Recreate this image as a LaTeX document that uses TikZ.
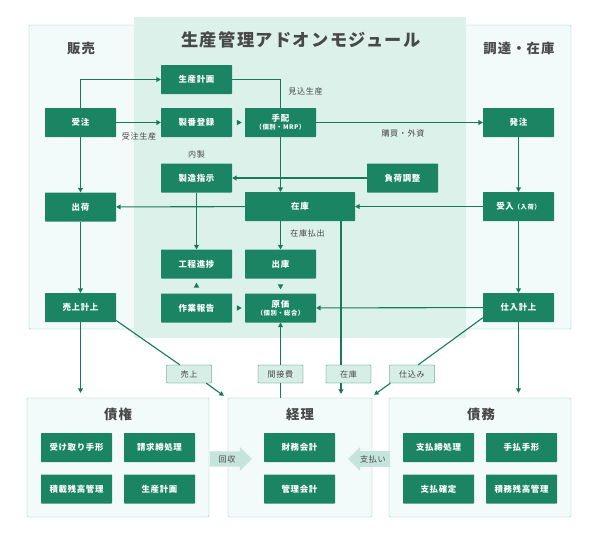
\documentclass[tikz,border=0pt]{standalone}
\usepackage{fontspec}
\setmainfont{Noto Sans CJK JP}[LetterSpace=8]
\usetikzlibrary{arrows.meta,positioning,shapes.geometric,shapes.arrows,calc}
\definecolor{gdark}{RGB}{27,133,99}
\definecolor{gline}{RGB}{22,122,88}
\definecolor{gzone}{RGB}{221,241,235}
\definecolor{gside}{RGB}{243,251,250}
\definecolor{gedge}{RGB}{138,196,176}
\definecolor{gtag}{RGB}{215,238,230}
\definecolor{gbig}{RGB}{197,228,219}
\definecolor{ink}{RGB}{72,72,72}

\begin{document}
\begin{tikzpicture}[x=0.5mm, y=-0.5mm,
  blk/.style={fill=gdark, text=white, font=\bfseries\fontsize{12}{13}\selectfont,
    minimum width=35.5mm, minimum height=14.5mm, inner sep=0pt,
    rounded corners=1pt, align=center},
  box/.style={draw=gedge, fill=gside, line width=0.5pt, rounded corners=1.5pt},
  head/.style={text=ink, font=\bfseries\fontsize{19}{21}\selectfont},
  note/.style={text=ink, font=\fontsize{11.5}{12.5}\selectfont, inner sep=0pt},
  small/.style={font=\bfseries\fontsize{8}{9}\selectfont},
  tag/.style={draw=gline, fill=gtag, line width=0.5pt, rounded corners=1pt,
    text=ink, font=\fontsize{11.5}{12.5}\selectfont,
    minimum width=22.5mm, minimum height=9mm, inner sep=0pt},
  link/.style={draw=gline, line width=0.55mm},
  flow/.style={link, -{Triangle[length=2.2mm, width=2.4mm]}},
  pip/.style={isosceles triangle, isosceles triangle apex angle=60,
    fill=gline, inner sep=0pt, minimum size=2.4mm},
  bigarrow/.style={single arrow, fill=gbig, text=ink,
    font=\fontsize{11.5}{12.5}\selectfont, minimum height=21mm,
    minimum width=12mm, single arrow head extend=1.25mm, inner sep=1pt},
]
  \useasboundingbox (0,0) rectangle (600,539);

  % Side panels and add-on zone
  \draw[box] (29,25) rectangle (200,329);
  \draw[box] (400,25) rectangle (571,329);
  \fill[gzone] (134,17) rectangle (466,338);

  % Panel titles
  \node[head] (tHanbai) at (81,48) {販売};
  \node[head] (tChotatsu) at (519,48) {調達・在庫};
  \node[head, font=\bfseries\fontsize{24.5}{27}\selectfont] (tAddon) at (301,40)
    {生産管理アドオンモジュール};

  % Sales column
  \node[blk] (juchu) at (80.5,122.5) {受注};
  \node[blk] (shukka) at (80.5,207) {出荷};
  \node[blk] (uriage) at (80.5,307.5) {売上計上};

  % Add-on module
  \node[blk] (keikaku) at (196.5,79.5) {生産計画};
  \node[blk] (seiban) at (196.5,122.5) {製番登録};
  \node[blk] (tehai) at (280.5,122.5) {手配\\[-2pt]{\fontsize{9}{10}\selectfont（個別・MRP）}};
  \node[blk] (shiji) at (196.5,178) {製造指示};
  \node[blk] (fuka) at (402.5,178) {負荷調整};
  \node[blk, minimum width=55mm] (zaiko) at (300,206.5) {在庫};
  \node[blk] (shinchoku) at (196.5,264) {工程進捗};
  \node[blk] (shukko) at (280.5,264) {出庫};
  \node[blk] (hokoku) at (196.5,308) {作業報告};
  \node[blk] (genka) at (280.5,308) {原価\\[-2pt]{\fontsize{9}{10}\selectfont（個別・総合）}};

  % Purchasing column
  \node[blk] (hatchu) at (518.5,122.5) {発注};
  \node[blk] (ukeire) at (518.5,206.5) {受入{\fontsize{9}{10}\selectfont（入荷）}};
  \node[blk] (shiire) at (518.5,307.5) {仕入計上};

  % Flow labels
  \node[note] (nJuchu) at (139,136) {受注生産};
  \node[note] (nMikomi) at (305.5,91) {見込生産};
  \node[note] (nKobai) at (403,133) {購買・外資};
  \node[note] (nNaisei) at (196.5,154) {内製};
  \node[note] (nHarai) at (307.5,233) {在庫払出};

  % Bottom panels
  \node[box, minimum width=91mm, minimum height=59.5mm] (saiken) at (118,457.5) {};
  \node[box, minimum width=72mm, minimum height=59.5mm] (keiri) at (300,457.5) {};
  \node[box, minimum width=91mm, minimum height=59.5mm] (saimu) at (480,457.5) {};
  \node[head] (tSaiken) at (118,414) {債権};
  \node[head] (tKeiri) at (300,414) {経理};
  \node[head] (tSaimu) at (481,414) {債務};

  \node[blk] (tegata) at (76.5,447.5) {受け取り手形};
  \node[blk] (seikyu) at (159.5,447.5) {請求締処理};
  \node[blk] (sekisai) at (76.5,489) {積載残高管理};
  \node[blk] (keikaku2) at (159.5,489) {生産計画};
  \node[blk] (zaimu) at (299.5,447.5) {財務会計};
  \node[blk] (kanri) at (299.5,489) {管理会計};
  \node[blk] (shimebi) at (438.5,447.5) {支払締処理};
  \node[blk] (teharai) at (521.5,447.5) {手払手形};
  \node[blk] (kakutei) at (438.5,489) {支払確定};
  \node[blk] (sekimu) at (521.5,489) {積務残高管理};

  % Transfer arrows between panels
  \node[bigarrow] (kaishu) at (227,459) {回収};
  \node[bigarrow, shape border rotate=180] (shiharai) at (373,459) {支払い};

  % Tags on the lines into accounting
  \node[tag] (tUri) at (189,374) {売上};
  \node[tag] (tKan) at (280.5,374) {間接費};
  \node[tag] (tZai) at (348.5,374) {在庫};
  \node[tag] (tShi) at (412,374) {仕込み};
  \coordinate (zx) at (341,0);

  % Connectors
  \draw[flow] (juchu.north) |- (keikaku.west);
  \draw[flow] (juchu) -- (seiban);
  \draw[flow] (juchu) -- (shukka);
  \draw[link] (keikaku.east) -| (tehai.north);
  \draw[flow] (tehai) -- (hatchu);
  \draw[flow] (tehai.south) -- (tehai.south |- zaiko.north);
  \draw[flow] (fuka) -- (shiji);
  \draw[flow] (hatchu) -- (ukeire);
  \draw[flow] (ukeire) -- (zaiko);
  \draw[flow] (zaiko) -- (shukka);
  \draw[flow] (shiji) -- (shinchoku);
  \draw[flow] (shukko.north |- zaiko.south) -- (shukko.north);
  \draw[flow] (shiire) -- (genka);
  \draw[flow] (ukeire) -- (shiire);
  \draw[flow] (shukka) -- (uriage);
  \draw[flow, shorten >=2.5mm] (uriage.south) -- (uriage.south |- saiken.north);
  \draw[flow, shorten >=2.5mm] (shiire.south) -- (shiire.south |- saimu.north);
  \path (seiban) -- node[pip] (p1) {} (tehai);
  \path (hokoku) -- node[pip] (p2) {} (genka);
  \path (hokoku) -- node[pip, shape border rotate=90] (p3) {} (shinchoku);
  \path (shukko) -- node[pip, shape border rotate=270] (p4) {} (genka);

  % Into accounting
  \draw[link] (uriage.-20) -- (tUri.135);
  \draw[flow] (tUri.-28) -- ($(keiri.north west)+(-4,-2)$);
  \draw[link] (tKan.south) -- (tKan.south |- keiri.north);
  \draw[flow] (tKan.north) -- (genka.south);
  \draw[link] (zaiko.south -| zx) -- (zx |- tZai.north);
  \draw[flow, shorten >=2mm] (zx |- tZai.south) -- (zx |- keiri.north);
  \draw[link] (shiire.196) -- (tShi.56);
  \draw[flow] (tShi.203) -- ($(keiri.north east)+(2,-3)$);
\end{tikzpicture}
\end{document}
